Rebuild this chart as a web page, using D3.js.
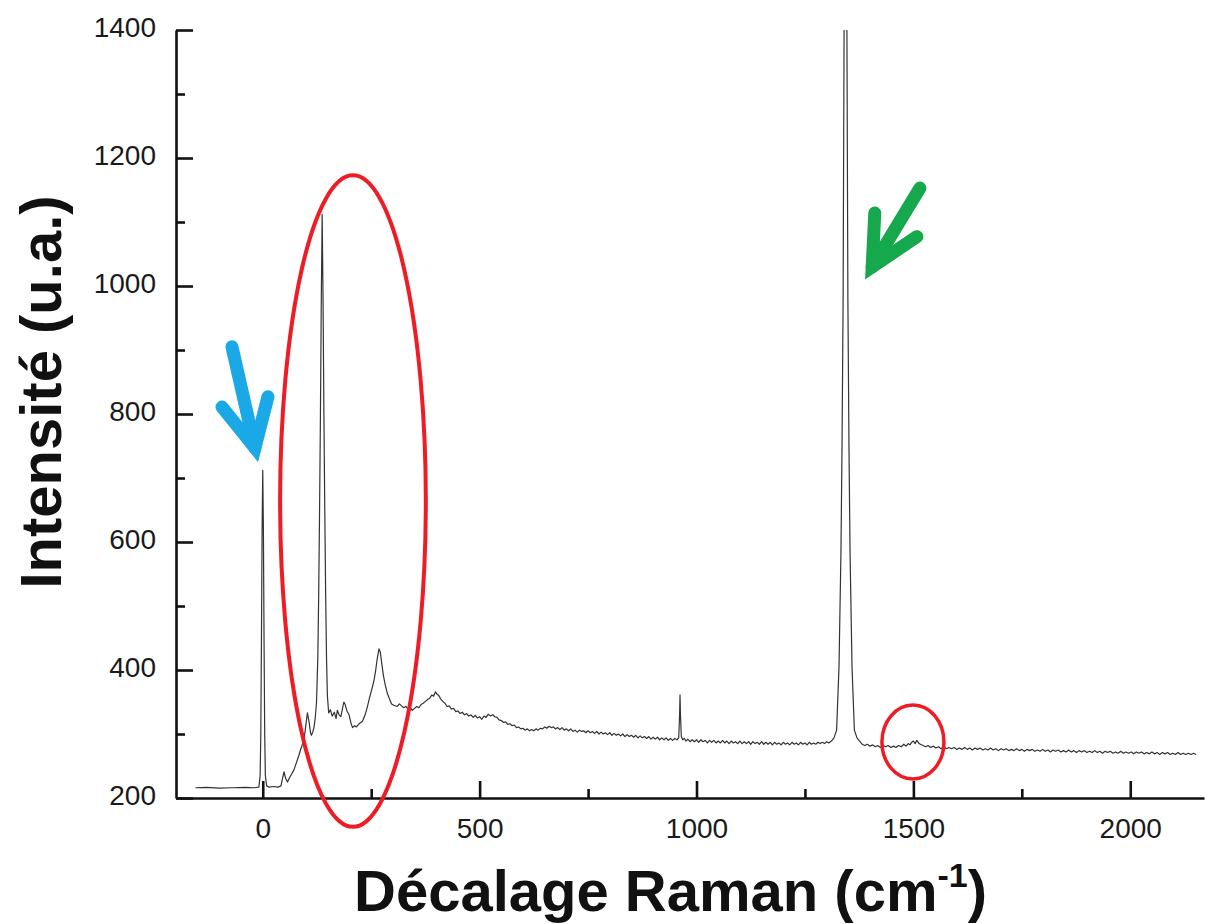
<!DOCTYPE html>
<html>
<head>
<meta charset="utf-8">
<script src="https://cdn.jsdelivr.net/npm/d3@7/dist/d3.min.js"></script>
<style>
  html, body { margin: 0; padding: 0; background: #fff; }
  svg { display: block; }
  text { font-family: "Liberation Sans", Arial, sans-serif; }
</style>
</head>
<body>
<div id="chart"></div>
<script>
// ---------- DATA (Raman shift in cm-1, intensity in a.u.) ----------
const laserLine = [[-155,216],[-130,216.5],[-100,215.5],[-70,216],[-40,216.5],[-20,216],[-9,217],[-6,235],[-4.5,300],[-3,447],[-1.5,620],[0,712],[1.5,620],[3,447],[4.5,300],[6,235],[9,219]];
const lowRegion = [[15,217],[25,218],[35,217],[42,219],[46,232],[49,241],[53,230],[57,225],[62,232],[67,238],[72,244],[78,256],[83,266],[87,275],[91,283],[95,290],[99,312],[103,333],[107,318],[110,303],[112,298],[115,302],[118,310],[121,325],[124,350],[127,420],[129,520],[131,650],[133,800],[135,980],[137,1112],[139,980],[141,800],[143,650],[145,520],[147,420],[149,360],[152,333],[156,338],[160,328],[165,334],[169,324],[172,337],[176,330],[180,327],[184,340],[187,350],[190,346],[194,336],[199,330],[203,318],[207,310],[212,313],[216,311],[222,316],[230,320],[236,330],[241,342],[246,356],[251,369],[256,382],[260,398],[264,418],[268,433],[271,428],[274,412],[278,392],[282,378],[287,364],[292,355],[297,347],[302,345]];
const midRegion = [[310,343],[315,347],[320,344],[325,341],[330,343],[335,339],[340,341],[345,337],[350,340],[355,343],[360,341],[365,346],[370,348],[375,351],[380,354],[385,356],[390,361],[394,359],[398,366],[402,362],[406,360],[410,355],[415,351],[420,348],[425,343],[430,344],[435,339],[440,340],[445,335],[450,336],[455,332],[460,334],[465,330],[470,332],[475,328],[480,330],[485,326],[490,329],[495,325],[500,327],[505,323],[510,328],[515,326],[520,331],[525,328],[530,330],[535,327],[540,326],[545,322],[550,321],[555,318],[560,319],[565,315],[570,316],[575,313],[580,314],[585,310],[590,311],[595,308],[600,309],[605,306],[610,308],[615,305],[620,307],[625,305],[630,308],[635,306],[640,309],[645,308],[650,311],[655,309],[660,312],[665,310],[670,311],[675,308],[680,310],[685,307],[690,310],[695,306],[700,308],[705,305],[710,308],[715,304],[720,306],[725,303],[730,306],[735,304],[740,305],[745,302],[750,305],[755,302],[760,304],[765,301],[770,304],[775,300],[780,303],[785,300],[790,302],[795,299],[800,302],[805,298],[810,301],[815,298],[820,300],[825,297],[830,300],[835,296],[840,299],[845,296],[850,298],[855,295],[860,298],[865,294],[870,297],[875,294],[880,296],[885,293],[890,296],[895,292],[900,295],[905,292],[910,295],[915,291],[920,294],[925,291],[930,294],[935,290],[940,293],[945,290],[950,293],[955,291],[959,294],[961,330],[962,361],[963,330],[965,296],[968,291],[972,293],[976,289],[980,292],[985,288],[990,291],[995,288],[1000,291],[1005,287],[1010,291],[1015,288],[1020,290],[1025,286],[1030,290],[1035,287],[1040,290],[1045,286],[1050,289],[1055,286],[1060,290],[1065,286],[1070,289],[1075,285],[1080,289],[1085,286],[1090,288],[1095,285],[1100,289],[1105,285],[1110,288],[1115,285],[1120,288],[1125,284],[1130,288],[1135,285],[1140,287],[1145,284],[1150,288],[1155,284],[1160,287],[1165,284],[1170,287],[1175,283],[1180,287],[1185,284],[1190,286],[1195,283],[1200,287],[1205,284],[1210,286],[1215,283],[1220,287],[1225,284],[1230,286],[1235,283],[1240,287],[1245,284],[1250,286],[1255,283],[1260,287],[1265,284],[1270,286],[1275,284],[1280,287],[1285,285],[1290,287],[1295,285],[1300,288],[1305,286]];
const mainPeak = [[1311,289],[1317,294],[1323,306],[1328.5,405],[1333,583],[1335.5,750],[1338,980],[1340.5,1450],[1343.5,1650],[1346.5,1450],[1349,980],[1351.5,750],[1354,583],[1358.5,405],[1364,306],[1370,294],[1376,289]];
const highRegion = [[1382,284],[1388,282],[1394,284],[1400,281],[1406,283],[1412,280],[1418,282],[1424,279],[1430,282],[1436,280],[1442,282],[1448,279],[1454,281],[1460,279],[1466,282],[1472,280],[1478,284],[1483,281],[1488,285],[1492,283],[1496,287],[1500,289],[1504,285],[1508,290],[1512,286],[1516,284],[1522,282],[1528,280],[1534,282],[1540,279],[1546,281],[1552,278],[1558,280],[1564,277],[1570,280],[1576,277],[1582,279],[1588,277],[1594,279],[1600,276],[1606,278],[1612,276],[1618,279],[1624,276],[1630,278],[1636,275],[1642,278],[1648,276],[1654,278],[1660,275],[1666,277],[1672,275],[1678,278],[1684,275],[1690,277],[1696,274],[1702,277],[1708,275],[1714,277],[1720,274],[1726,276],[1732,274],[1738,277],[1744,274],[1750,276],[1756,273],[1762,276],[1768,274],[1774,276],[1780,273],[1786,275],[1792,273],[1798,276],[1804,273],[1810,275],[1816,272],[1822,275],[1828,273],[1834,275],[1840,272],[1846,274],[1852,272],[1858,275],[1864,272],[1870,274],[1876,271],[1882,274],[1888,272],[1894,274],[1900,271],[1906,273],[1912,271],[1918,274],[1924,271],[1930,273],[1936,270],[1942,273],[1948,271],[1954,273],[1960,270],[1966,272],[1972,270],[1978,273],[1984,270],[1990,272],[1996,270],[2002,272],[2008,269],[2014,272],[2020,270],[2026,272],[2032,269],[2038,271],[2044,269],[2050,272],[2056,269],[2062,271],[2068,268],[2074,271],[2080,269],[2086,271],[2092,268],[2098,270],[2104,268],[2110,271],[2116,268],[2122,270],[2128,268],[2134,270],[2140,268],[2146,270],[2152,268]];

const xTicksMajor = [0, 500, 1000, 1500, 2000];
const xTicksMinor = [250, 750, 1250, 1750];
const yTicksMajor = [200, 400, 600, 800, 1000, 1200, 1400];
const yTicksMinor = [300, 500, 700, 900, 1100, 1300];
const xTitle = "Décalage Raman (cm";
const xTitleSup = "-1";
const yTitle = "Intensité (u.a.)";

// annotations in data units
const blueArrow = { tail: [-71, 905], tip: [-18, 747], armA: [-94, 811], armB: [12, 827] };
const greenArrow = { tail: [1515, 1153], tip: [1405, 1030], armA: [1411, 1114], armB: [1508, 1077] };
const bigEllipse = { cx: 208, cy: 664, rx: 168, ry: 509 };
const smallEllipse = { cx: 1499, cy: 287.5, rx: 71.5, ry: 57.8 };

// ---------- CHART ----------
const W = 1206, H = 924;
const M = { left: 176, right: 2, top: 30, bottom: 126 };
const svg = d3.select("#chart").append("svg").attr("width", W).attr("height", H);

const x = d3.scaleLinear().domain([-200, 2170]).range([M.left, W - M.right]);
const y = d3.scaleLinear().domain([200, 1400]).range([H - M.bottom, M.top]);

const spectrum = [].concat(laserLine, lowRegion, midRegion, mainPeak, highRegion);

svg.append("clipPath").attr("id", "plotClip")
  .append("rect").attr("x", M.left).attr("y", M.top)
  .attr("width", W - M.left - M.right).attr("height", H - M.top - M.bottom);

const line = d3.line().x(d => x(d[0])).y(d => y(d[1]));
svg.append("path").datum(spectrum)
  .attr("clip-path", "url(#plotClip)")
  .attr("fill", "none").attr("stroke", "#333").attr("stroke-width", 1.2)
  .attr("stroke-linejoin", "round")
  .attr("d", line);

// axes
const fontTick = 28;
const fmt = d3.format("d");
svg.append("g").attr("transform", `translate(0,${y(200)})`)
  .call(d3.axisBottom(x).tickValues(xTicksMajor).tickFormat(fmt).tickSizeInner(-17).tickSizeOuter(0).tickPadding(20));
svg.append("g").attr("transform", `translate(0,${y(200)})`)
  .call(d3.axisBottom(x).tickValues(xTicksMinor).tickSizeInner(-9).tickSizeOuter(0).tickFormat(""))
  .select(".domain").remove();
const yAxisG = svg.append("g").attr("transform", `translate(${x(-200)},0)`)
  .call(d3.axisLeft(y).tickValues(yTicksMajor).tickFormat(fmt).tickSizeInner(-17).tickSizeOuter(0).tickPadding(20));
yAxisG.selectAll(".tick text").attr("dy", "0.22em");
svg.append("g").attr("transform", `translate(${x(-200)},0)`)
  .call(d3.axisLeft(y).tickValues(yTicksMinor).tickSizeInner(-9).tickSizeOuter(0).tickFormat(""))
  .select(".domain").remove();

svg.selectAll(".domain").attr("stroke", "#111").attr("stroke-width", 2.6);
svg.selectAll(".tick line").attr("stroke", "#111").attr("stroke-width", 2.6);
svg.selectAll(".tick text").attr("font-size", fontTick).attr("fill", "#1a1a1a")
  .attr("font-family", "'Liberation Sans', Arial, sans-serif");

// titles
svg.append("text")
  .attr("transform", `translate(61,392) rotate(-90)`)
  .attr("text-anchor", "middle")
  .attr("font-size", 58).attr("font-weight", "bold").attr("fill", "#111")
  .text(yTitle);

const xt = svg.append("text")
  .attr("x", 354).attr("y", 911)
  .attr("text-anchor", "start")
  .attr("font-size", 58).attr("font-weight", "bold").attr("fill", "#111");
xt.append("tspan").text(xTitle);
xt.append("tspan").attr("font-size", 34).attr("dy", -24).text(xTitleSup);
xt.append("tspan").attr("dy", 24).text(")");

// annotations
const ann = svg.append("g");
ann.append("ellipse")
  .attr("cx", x(bigEllipse.cx)).attr("cy", y(bigEllipse.cy))
  .attr("rx", x(bigEllipse.rx) - x(0)).attr("ry", y(0) - y(bigEllipse.ry))
  .attr("fill", "none").attr("stroke", "#ee1c24").attr("stroke-width", 4);
ann.append("ellipse")
  .attr("cx", x(smallEllipse.cx)).attr("cy", y(smallEllipse.cy))
  .attr("rx", x(smallEllipse.rx) - x(0)).attr("ry", y(0) - y(smallEllipse.ry))
  .attr("fill", "none").attr("stroke", "#ee1c24").attr("stroke-width", 3.5);

function drawArrow(a, color) {
  const p = d => [x(d[0]), y(d[1])];
  const g = ann.append("g").attr("fill", "none").attr("stroke", color)
    .attr("stroke-width", 13).attr("stroke-linecap", "round").attr("stroke-linejoin", "miter");
  g.append("path").attr("d", d3.line()([p(a.tail), p(a.tip)]));
  g.append("path").attr("d", d3.line()([p(a.armA), p(a.tip), p(a.armB)]));
}
drawArrow(blueArrow, "#1aa9e6");
drawArrow(greenArrow, "#16a84c");
</script>
</body>
</html>
